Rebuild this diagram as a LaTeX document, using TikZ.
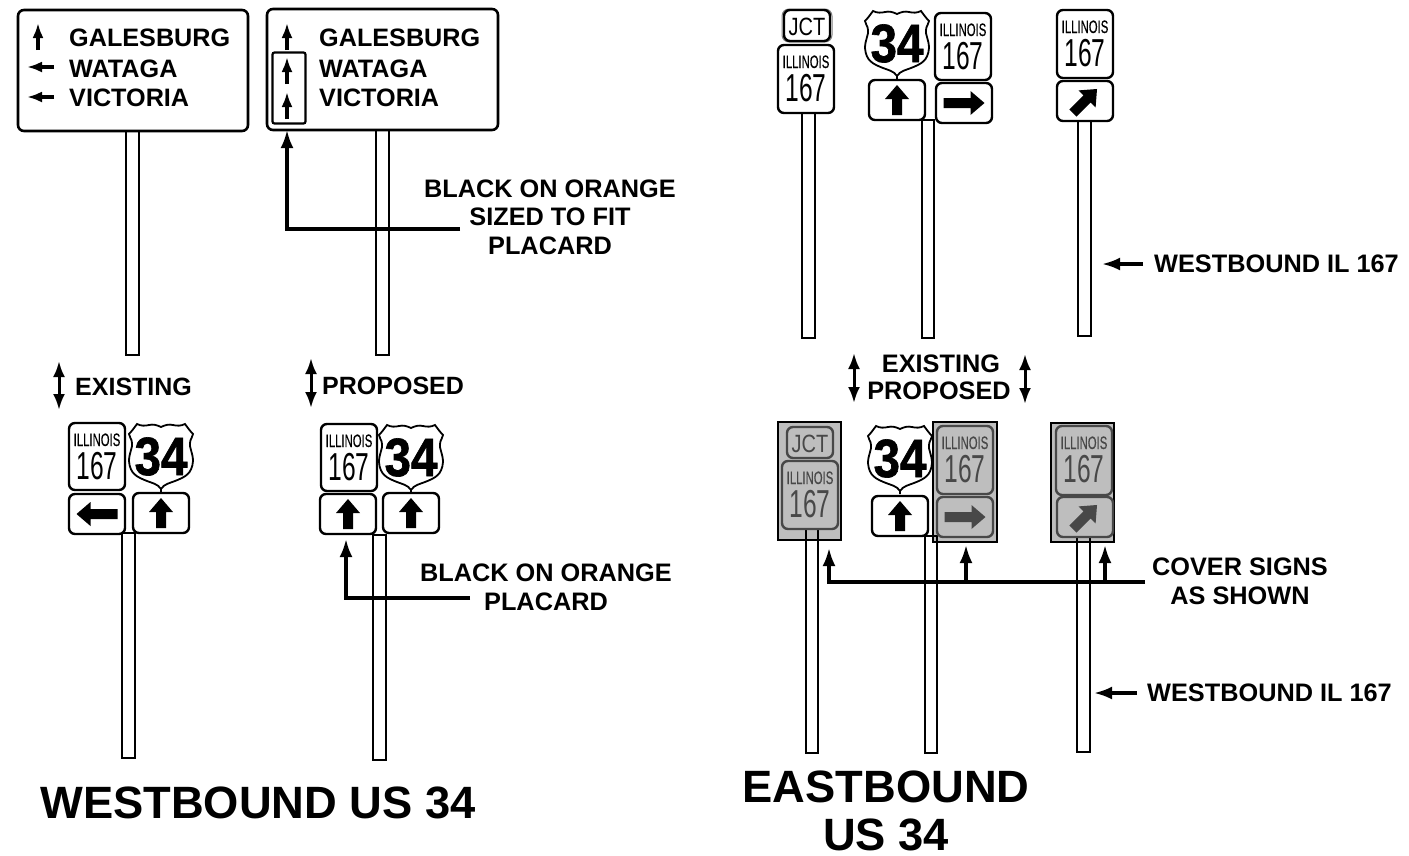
\documentclass[tikz,border=0pt]{standalone}
\usepackage{fontspec}
\setmainfont{Liberation Sans}
\newfontfamily\ilfont[FakeStretch=0.63,FakeBold=0.25]{Liberation Sans}
\newfontfamily\numfont[FakeStretch=0.63]{Liberation Sans}
\newfontfamily\jctfont[FakeStretch=0.8]{Liberation Sans}
\newfontfamily\shieldfont[BoldFeatures={FakeStretch=0.88,FakeBold=1.2}]{Liberation Sans}
\usetikzlibrary{arrows.meta}
\colorlet{signink}{black}
\colorlet{signback}{white}
\definecolor{coverink}{HTML}{484848}
\definecolor{covergrey}{HTML}{BEBEBE}
\tikzset{
  signface/.style={draw=signink, fill=signback, line width=2.4pt, rounded corners=6pt},
  postline/.style={draw=black, line width=2pt},
  panelarrow/.style={line width=3.4pt, -{Latex[length=15pt,width=11pt]}},
  leader/.style={line width=3.2pt, -{Latex[length=18pt,width=13pt]}},
  span/.style={line width=3pt, {Latex[length=16pt,width=12pt]}-{Latex[length=16pt,width=12pt]}},
  panel/.style={font=\bfseries\fontsize{25.2}{29}\selectfont, inner sep=0pt, anchor=base west},
  note/.style={font=\bfseries\fontsize{25.3}{28.7}\selectfont, inner sep=0pt, align=center},
  title/.style={font=\bfseries\fontsize{45.3}{51}\selectfont, inner sep=0pt, anchor=base}
}
% Illinois route marker, 56 wide
\newcommand{\ilsign}[3]{
  \begin{scope}[shift={(#1,#2)}]
    \draw[signface] (0,0) rectangle (56,#3);
    \node[signink, font=\ilfont\fontsize{18}{18}\selectfont, inner sep=0pt, anchor=base] at (28,23) {ILLINOIS};
    \node[signink, font=\numfont\fontsize{39}{39}\selectfont, inner sep=0pt, anchor=base] at (28,56) {167};
  \end{scope}
}
% JCT plate
\newcommand{\jctsign}[2]{
  \begin{scope}[shift={(#1,#2)}]
    \draw[signface] (0,0) rectangle (46,31);
    \node[signink, font=\jctfont\fontsize{25}{25}\selectfont, inner sep=0pt, anchor=base] at (23,25) {JCT};
  \end{scope}
}
% directional plate: x, y, rotation, arrow length
\newcommand{\arrowplate}[4]{
  \begin{scope}[shift={(#1,#2)}]
    \draw[signface] (0,0) rectangle (56,40);
    \fill[signink, shift={(28,20)}, rotate=#3]
      (0,-#4/2) -- (12,-#4/2+14) -- (5,-#4/2+14) -- (5,#4/2) -- (-5,#4/2) -- (-5,-#4/2+14) -- (-12,-#4/2+14) -- cycle;
  \end{scope}
}
% US route shield: centre x, top y
\newcommand{\usshield}[2]{
  \begin{scope}[shift={(#1,#2)}]
    \draw[line width=1.8pt, fill=white] (0,69) -- (0,66)
      .. controls (-3,61) and (-9,60) .. (-14,58)
      .. controls (-24,54) and (-31,51) .. (-32,38)
      .. controls (-32,30) and (-28,24) .. (-29,20)
      .. controls (-29,16) and (-32,14) .. (-32,11)
      .. controls (-29,8) and (-27,5) .. (-24,1)
      .. controls (-20,3) and (-16,3) .. (-12,2)
      .. controls (-8,1) and (-4,2) .. (0,4)
      .. controls (4,2) and (8,1) .. (12,2)
      .. controls (16,3) and (20,3) .. (24,1)
      .. controls (27,5) and (29,8) .. (32,11)
      .. controls (32,14) and (29,16) .. (29,20)
      .. controls (28,24) and (32,30) .. (32,38)
      .. controls (31,51) and (24,54) .. (14,58)
      .. controls (9,60) and (3,61) .. (0,66);
    \node[font=\shieldfont\bfseries\fontsize{54}{54}\selectfont, inner sep=0pt, anchor=base] at (0,52) {34};
  \end{scope}
}

\begin{document}
\begin{tikzpicture}[x=1pt, y=-1pt]
  \useasboundingbox (0,0) rectangle (1409,855);

  % Westbound US 34, existing guide sign
  \draw[postline] (126,120) rectangle (139,355);
  \draw[line width=2.6pt, rounded corners=6pt, fill=white] (18,10) rectangle (248,131);
  \draw[panelarrow] (38,50) -- (38,23);
  \draw[panelarrow] (54,67) -- (27,67);
  \draw[panelarrow] (54,97) -- (27,97);
  \node[panel] (galesburgold) at (69,46) {GALESBURG};
  \node[panel] (watagaold) at (69,77) {WATAGA};
  \node[panel] (victoriaold) at (69,106) {VICTORIA};

  % Westbound US 34, proposed guide sign
  \draw[postline] (376,120) rectangle (389,355);
  \draw[line width=2.6pt, rounded corners=6pt, fill=white] (267,9) rectangle (498,130);
  \draw[panelarrow] (287,50) -- (287,23);
  \node[panel] (galesburgnew) at (319,46) {GALESBURG};
  \node[panel] (watAganew) at (319,77) {WATAGA};
  \node[panel] (victorianew) at (319,106) {VICTORIA};
  \node[draw, line width=2.2pt, rounded corners=2pt, minimum width=33pt, minimum height=71pt, inner sep=0pt] (placard) at (289,88) {};
  \draw[panelarrow] (287,84) -- (287,57);
  \draw[panelarrow] (287,119) -- (287,92);

  % placard note
  \node[note] (placardnote) at (550,217) {BLACK ON ORANGE\\SIZED TO FIT\\PLACARD};
  \coordinate (placardtail) at (460,229);
  \coordinate (placardtip) at (287,130);
  \draw[leader] (placardtail) -| (placardtip);

  % Existing / proposed, westbound
  \draw[span] (59,361) -- (59,410);
  \node[panel, font=\bfseries\fontsize{25}{29}\selectfont] (existwest) at (75,395) {EXISTING};
  \draw[span] (311,358) -- (311,408);
  \node[panel, font=\bfseries\fontsize{25}{29}\selectfont] (propwest) at (322,394) {PROPOSED};

  % Westbound assemblies
  \draw[postline] (122,533) rectangle (135,758);
  \ilsign{69}{423}{67}
  \usshield{161}{423}
  \arrowplate{69}{494}{90}{41}
  \arrowplate{133}{493}{0}{30}

  \draw[postline] (373,535) rectangle (386,760);
  \ilsign{321}{424}{67}
  \usshield{411}{424}
  \arrowplate{320}{494}{0}{30}
  \arrowplate{383}{493}{0}{30}

  \node[note] (orangenote) at (546,587) {BLACK ON ORANGE\\PLACARD};
  \coordinate (orangetail) at (470,598);
  \coordinate (orangetip) at (346,539);
  \draw[leader] (orangetail) -| (orangetip);

  \node[title] (westtitle) at (258,818) {WESTBOUND US 34};

  % Eastbound, existing row
  \draw[postline] (802,100) rectangle (815,338);
  \draw[gray, line width=1pt, rounded corners=7pt] (782,9) rectangle (832,42);
  \jctsign{784}{10}
  \ilsign{778}{45}{68}

  \draw[postline] (922,120) rectangle (934,338);
  \usshield{897}{10}
  \ilsign{935}{13}{67}
  \arrowplate{869}{80}{0}{30}
  \arrowplate{936}{83}{-90}{41}

  \draw[postline] (1078,100) rectangle (1091,336);
  \ilsign{1057}{10}{68}
  \arrowplate{1057}{81}{-45}{34}

  \coordinate (wbtopend) at (1102,264);
  \node[note, anchor=west] (wbtop) at (1154,264) {WESTBOUND IL 167};
  \draw[leader] ([xshift=-11pt]wbtop.west) -- (wbtopend);

  % Existing / proposed, eastbound
  \draw[span] (854,353) -- (854,403);
  \draw[span] (1025,354) -- (1025,404);
  \node[note] (existeast) at (941,364) {EXISTING};
  \node[note] (propeast) at (939,391) {PROPOSED};

  % Eastbound, proposed row
  \draw[line width=2pt, fill=covergrey] (778,422) rectangle (841,540);
  \draw[line width=2pt, fill=covergrey] (933,422) rectangle (997,542);
  \draw[line width=2pt, fill=covergrey] (1051,423) rectangle (1114,542);
  \draw[postline] (806,520) rectangle (818,753);
  \draw[postline] (925,536) rectangle (937,753);
  \draw[postline] (1077,520) rectangle (1090,752);

  \begin{scope}
    \colorlet{signink}{coverink}
    \colorlet{signback}{covergrey}
    \jctsign{787}{427}
    \ilsign{782}{461}{68}
    \ilsign{937}{426}{68}
    \arrowplate{937}{497}{-90}{41}
    \ilsign{1056}{426}{69}
    \arrowplate{1057}{497}{-45}{34}
  \end{scope}

  \usshield{900}{425}
  \arrowplate{872}{496}{0}{30}

  % cover note
  \node[note] (covernote) at (1240,581) {COVER SIGNS\\AS SHOWN};
  \coordinate (covertail) at (1145,582);
  \coordinate (covertipa) at (829,548);
  \coordinate (covertipb) at (966,545);
  \coordinate (covertipc) at (1105,545);
  \draw[leader] (covertail) -| (covertipa);
  \draw[leader] (covertipb |- covertail) -- (covertipb);
  \draw[leader] (covertipc |- covertail) -- (covertipc);

  \coordinate (wbbotend) at (1094,693);
  \node[note, anchor=west] (wbbot) at (1147,693) {WESTBOUND IL 167};
  \draw[leader] ([xshift=-10pt]wbbot.west) -- (wbbotend);

  \node[title] (easttitle) at (886,802) {EASTBOUND};
  \node[title] (eastroute) at (886,850) {US 34};
\end{tikzpicture}
\end{document}
